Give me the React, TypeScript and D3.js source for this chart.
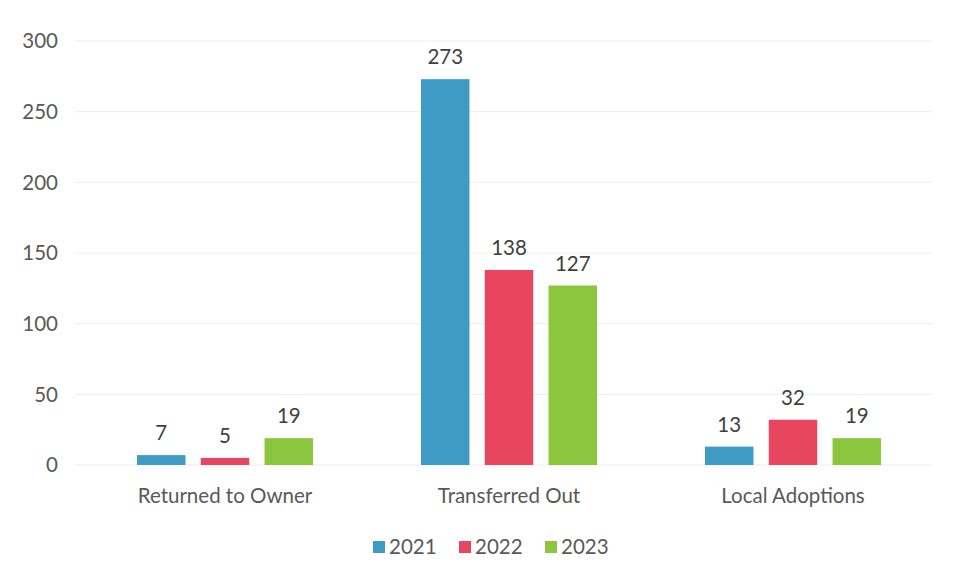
import React from "react";
import * as d3 from "d3";

const categories = ["Returned to Owner", "Transferred Out", "Local Adoptions"];
const seriesNames = ["2021", "2022", "2023"];
const values2021 = [7, 273, 13];
const values2022 = [5, 138, 32];
const values2023 = [19, 127, 19];
const yTicks = [0, 50, 100, 150, 200, 250, 300];
const colors = ["#3f9bc4", "#e8455e", "#8cc63f"];

const W = 959;
const H = 587;
const font = "Lato, 'Open Sans', sans-serif";
const fs = 20.5;

export default function App() {
  const series = [values2021, values2022, values2023];
  const x0 = d3.scaleBand().domain(categories).range([83, 935]).paddingInner(0).paddingOuter(0);
  const x1 = d3
    .scaleBand()
    .domain(seriesNames)
    .range([54, x0.bandwidth() - 54])
    .paddingInner(0.24);
  const y = d3.scaleLinear().domain([0, 300]).range([465, 41]);

  return (
    <svg width={W} height={H} style={{ position: "absolute", left: 0, top: 0, background: "#fff" }}>
      <rect x={0} y={0} width={W} height={H} fill="#fff" />
      {yTicks.map((t) => (
        <g key={t}>
          <line x1={75} x2={932} y1={y(t)} y2={y(t)} stroke="#ededed" strokeWidth={1} />
          <text x={58} y={y(t)} dy="0.35em" textAnchor="end" fontFamily={font} fontSize={fs} fill="#595959">
            {t}
          </text>
        </g>
      ))}
      {categories.map((c, ci) => (
        <g key={c} transform={`translate(${x0(c)},0)`}>
          {seriesNames.map((s, si) => {
            const v = series[si][ci];
            const bx = x1(s)!;
            return (
              <g key={s}>
                <rect x={bx} y={y(v)} width={x1.bandwidth()} height={y(0) - y(v)} fill={colors[si]} />
                <text
                  x={bx + x1.bandwidth() / 2}
                  y={y(v) - 15}
                  textAnchor="middle"
                  fontFamily={font}
                  fontSize={fs}
                  fill="#404040"
                >
                  {v}
                </text>
              </g>
            );
          })}
          <text
            x={x0.bandwidth() / 2}
            y={503}
            textAnchor="middle"
            fontFamily={font}
            fontSize={fs}
            fill="#595959"
          >
            {c}
          </text>
        </g>
      ))}
      {seriesNames.map((s, si) => {
        const lx = 373 + si * 86;
        return (
          <g key={s}>
            <rect x={lx} y={541} width={12} height={12} fill={colors[si]} />
            <text x={lx + 16} y={547} dy="0.35em" fontFamily={font} fontSize={fs} fill="#595959">
              {s}
            </text>
          </g>
        );
      })}
    </svg>
  );
}
